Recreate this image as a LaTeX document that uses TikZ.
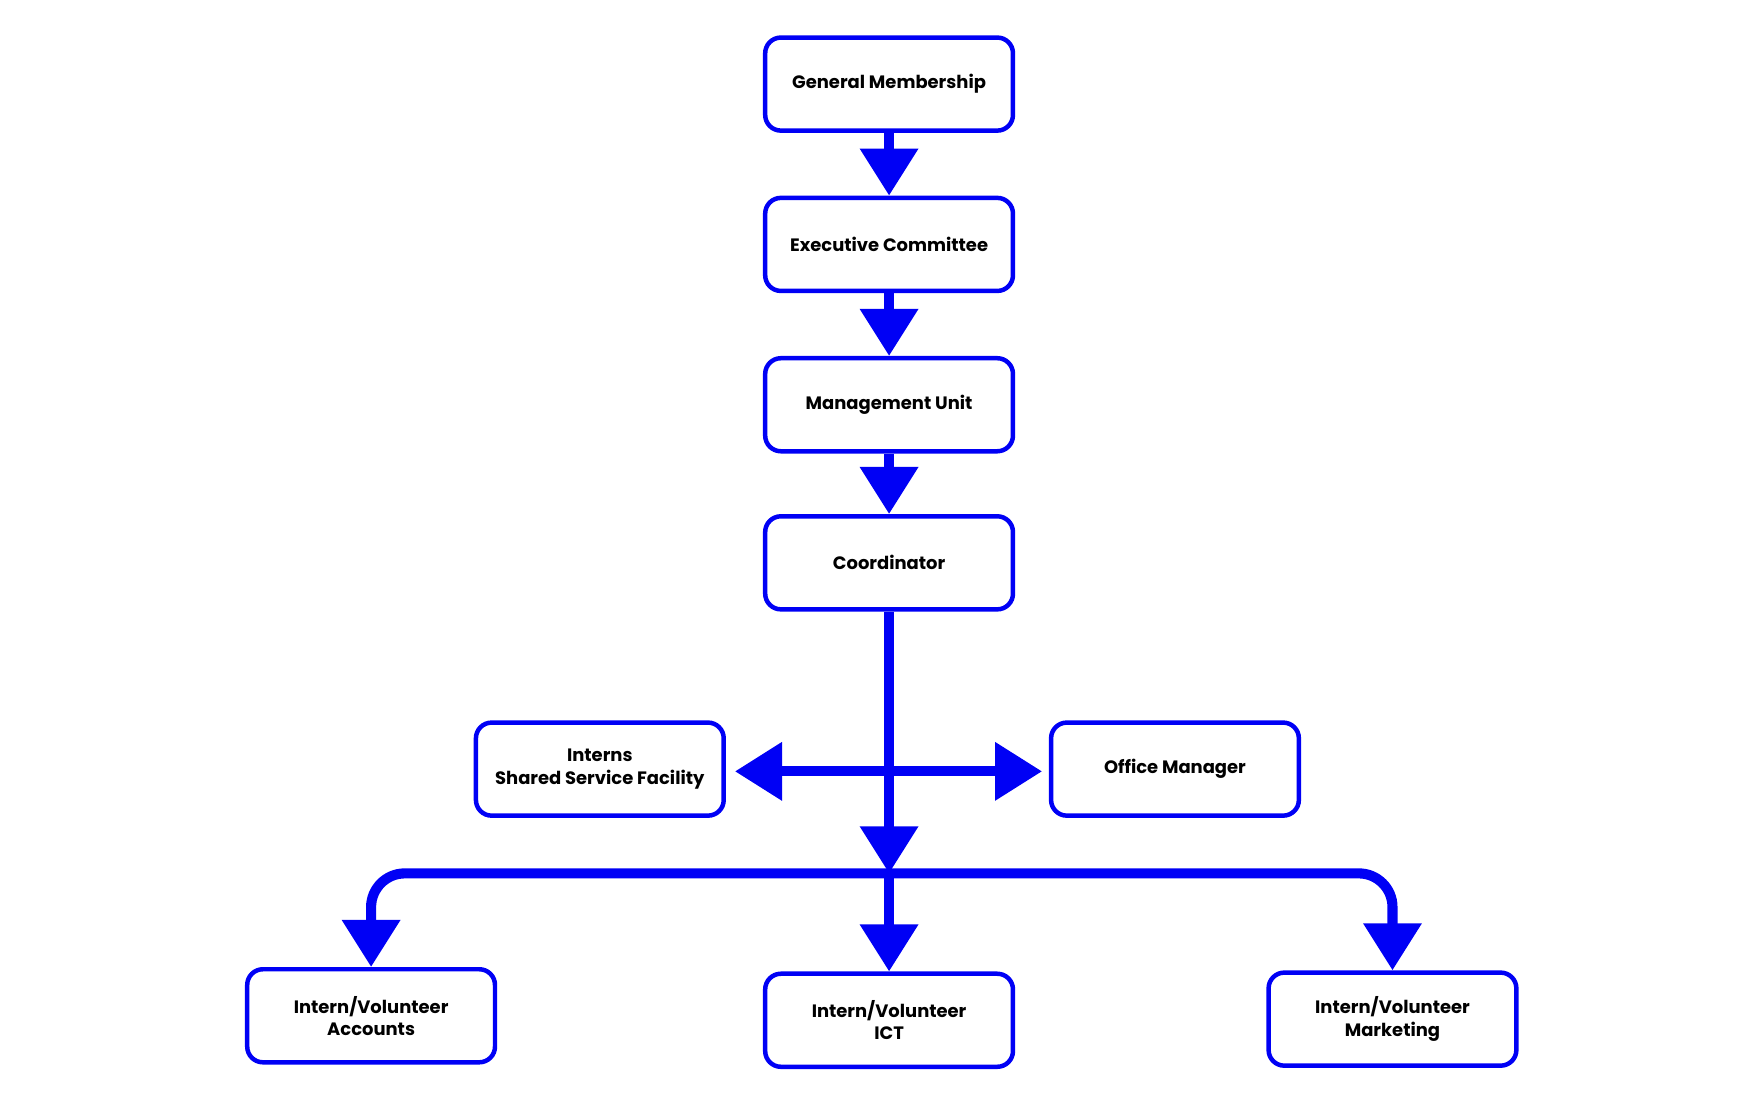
\documentclass[tikz,border=0pt]{standalone}
\usepackage{fontspec}
\setmainfont{Poppins}
\usetikzlibrary{arrows.meta}
\definecolor{bl}{RGB}{0,0,245}
\tikzset{
 box/.style={draw=bl,line width=4pt,rounded corners=14pt,minimum width=221pt,minimum height=83pt,align=center,font=\fontsize{16}{20}\selectfont\bfseries,inner sep=2pt},
 conn/.style={draw=bl,line width=9pt,-{Triangle[width=50pt,length=42pt]}}
}
\begin{document}
\begin{tikzpicture}[x=1pt,y=-1pt]
\useasboundingbox (0,0) rectangle (1560,982);
\node[box] (gm) at (793,75) {General Membership};
\node[box] (ec) at (793,218) {Executive Committee};
\node[box] (mu) at (793,361) {Management Unit};
\node[box] (co) at (793,502) {Coordinator};
\node[box] (in) at (535,686) {Interns\\Shared Service Facility};
\node[box] (om) at (1048,686) {Office Manager};
\node[box] (ac) at (331,906) {Intern/Volunteer\\Accounts};
\node[box] (ict) at (793,910) {Intern/Volunteer\\ICT};
\node[box] (mk) at (1242,909) {Intern/Volunteer\\Marketing};
\coordinate (c) at (793,688);
\coordinate (bus) at (793,779);
\draw[conn] (gm) -- (ec);
\draw[conn] (ec) -- (mu);
\draw[conn] (mu) -- (co);
\draw[conn] (co.south) -- (bus);
\draw[conn,{Triangle[width=50pt,length=42pt]}-{Triangle[width=50pt,length=42pt]}] (in.east)++(8,2) -- ++(274,0);
\draw[draw=bl,line width=9pt,rounded corners=30pt,-{Triangle[width=50pt,length=42pt]}] (bus) -| (ac.north);
\draw[draw=bl,line width=9pt,rounded corners=30pt,-{Triangle[width=50pt,length=42pt]}] (bus) -| (mk.north);
\draw[conn] (bus) -- (ict.north);
\end{tikzpicture}
\end{document}
